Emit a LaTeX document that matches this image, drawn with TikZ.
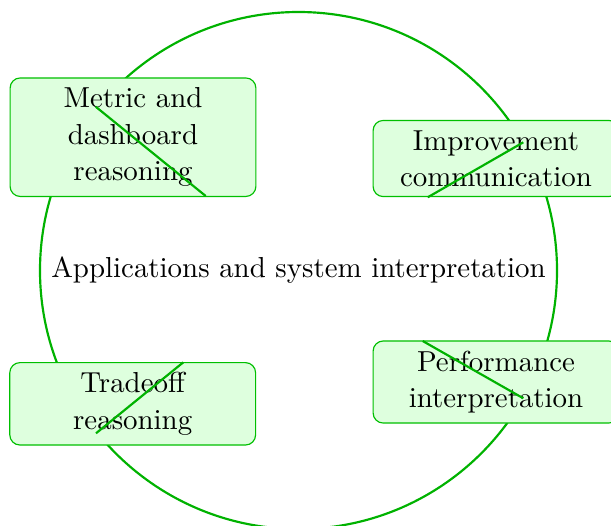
\documentclass[tikz,border=0pt]{standalone}
\begin{document}
\begin{tikzpicture}[x=0.346pt,y=-0.346pt,
  ring/.style={draw=green!70!black,line width=0.75pt},
  cardbox/.style={draw=green!75!black,fill=green!13,rounded corners=3.5pt,
    text width=2.75cm,align=center,inner sep=3.4pt,text=black,
    execute at begin node=\setlength{\baselineskip}{12.6pt}},
  slash/.style={draw=green!70!black,line width=0.75pt}]
\useasboundingbox (0,0) rectangle (611,525);
\clip (0,0) rectangle (611,525);
\coordinate (c) at (298.5,270.5);
\draw[ring] (c) circle[radius=258.5];
\node (title) at (c) {Applications and system interpretation};
\node[cardbox] (m) at (133,137.2) {Metric and dashboard reasoning};
\node[cardbox] (i) at (496,158.5) {Improvement communication};
\node[cardbox] (t) at (132.7,403.8) {Tradeoff reasoning};
\node[cardbox] (p) at (496,382) {Performance interpretation};
\coordinate (m1) at (95.7,106.7);
\coordinate (m2) at (205.7,196);
\coordinate (i1) at (523.3,142.3);
\coordinate (i2) at (427.7,197.3);
\coordinate (t1) at (183.3,362.3);
\coordinate (t2) at (96,433.3);
\coordinate (p1) at (422.7,341);
\coordinate (p2) at (523.3,398.3);
\draw[slash] (m1) -- (m2);
\draw[slash] (i1) -- (i2);
\draw[slash] (t1) -- (t2);
\draw[slash] (p1) -- (p2);
\end{tikzpicture}
\end{document}
